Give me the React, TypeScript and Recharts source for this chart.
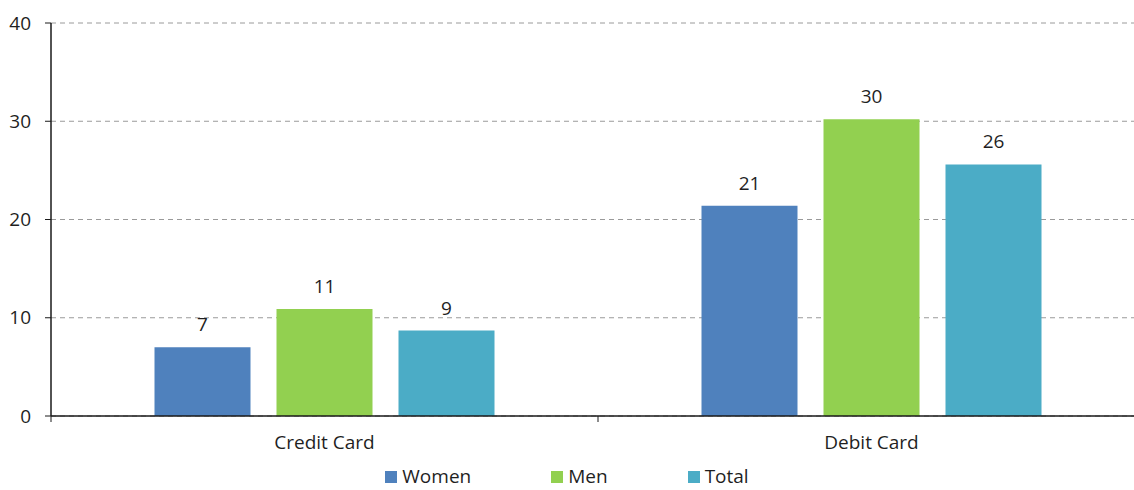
import { BarChart, Bar, XAxis, YAxis, CartesianGrid, LabelList } from 'recharts';

const categories = ['Credit Card', 'Debit Card'];
const women = [7.0, 21.4];
const men = [10.9, 30.2];
const total = [8.7, 25.6];
const yTicks = [0, 10, 20, 30, 40];

const series = [
    { key: 'women', name: 'Women', color: '#4F81BD' },
    { key: 'men', name: 'Men', color: '#92D050' },
    { key: 'total', name: 'Total', color: '#4BACC6' },
];

const data = categories.map((name, i) => ({
    name,
    women: women[i],
    men: men[i],
    total: total[i],
}));

const FONT = '"Open Sans", sans-serif';
const TEXT = '#1f1f1f';
const AXIS = '#1a1a1a';
const WEIGHT = 400;

const W = 1150;
const H = 490;
const MARGIN = { top: 23, right: 5, bottom: 0, left: 0 };
const Y_W = 51;
const X_H = 74;
// half of one category band, for the Excel-style ticks between categories
const HALF_BAND = (W - MARGIN.left - MARGIN.right - Y_W) / categories.length / 2;

function CategoryTick(props: any) {
    const { x, y, payload, index } = props;
    return (
        <g>
            {index === 0 && <line x1={x - HALF_BAND} x2={x - HALF_BAND} y1={y} y2={y + 6} stroke={AXIS} />}
            <line x1={x + HALF_BAND} x2={x + HALF_BAND} y1={y} y2={y + 6} stroke={AXIS} />
            <text x={x} y={y + 33} textAnchor="middle" fill={TEXT} fontSize={19} fontFamily={FONT} fontWeight={WEIGHT}>
                {payload.value}
            </text>
        </g>
    );
}

export default function App() {
    return (
        <div style={{ position: 'absolute', left: 0, top: 0, width: 1134, height: H, overflow: 'hidden', background: '#fff' }}>
            <BarChart width={W} height={H} data={data} margin={MARGIN} barCategoryGap={103.5} barGap={26}>
                <CartesianGrid vertical={false} stroke="#9a9a9a" strokeDasharray="5 4" />
                <XAxis
                    dataKey="name"
                    height={X_H}
                    axisLine={{ stroke: AXIS, strokeWidth: 1.5 }}
                    tickLine={false}
                    tickSize={0}
                    tickMargin={0}
                    tick={<CategoryTick />}
                    interval={0}
                />
                <YAxis
                    width={Y_W}
                    domain={[0, 40]}
                    ticks={yTicks}
                    interval={0}
                    axisLine={{ stroke: AXIS, strokeWidth: 1.5 }}
                    tickLine={{ stroke: AXIS }}
                    tickSize={6}
                    tickMargin={14}
                    tick={{ fill: TEXT, fontSize: 19, fontFamily: FONT, fontWeight: WEIGHT }}
                />
                {series.map((s) => (
                    <Bar key={s.key} dataKey={s.key} name={s.name} fill={s.color} isAnimationActive={false}>
                        <LabelList
                            dataKey={s.key}
                            position="top"
                            offset={16}
                            formatter={(v: any) => Math.round(Number(v))}
                            fill={TEXT}
                            fontSize={19}
                            fontFamily={FONT}
                            fontWeight={WEIGHT}
                        />
                    </Bar>
                ))}
            </BarChart>
            <div
                style={{
                    position: 'absolute',
                    top: 466,
                    left: 0,
                    width: 1134,
                    display: 'flex',
                    justifyContent: 'center',
                    gap: 80,
                    fontFamily: FONT,
                    fontWeight: WEIGHT,
                    fontSize: 19,
                    color: TEXT,
                    lineHeight: '20px',
                }}
            >
                {series.map((s) => (
                    <div key={s.key} style={{ display: 'flex', alignItems: 'center' }}>
                        <span style={{ width: 12, height: 12, background: s.color, marginRight: 5, marginTop: 2 }} />
                        <span>{s.name}</span>
                    </div>
                ))}
            </div>
        </div>
    );
}
